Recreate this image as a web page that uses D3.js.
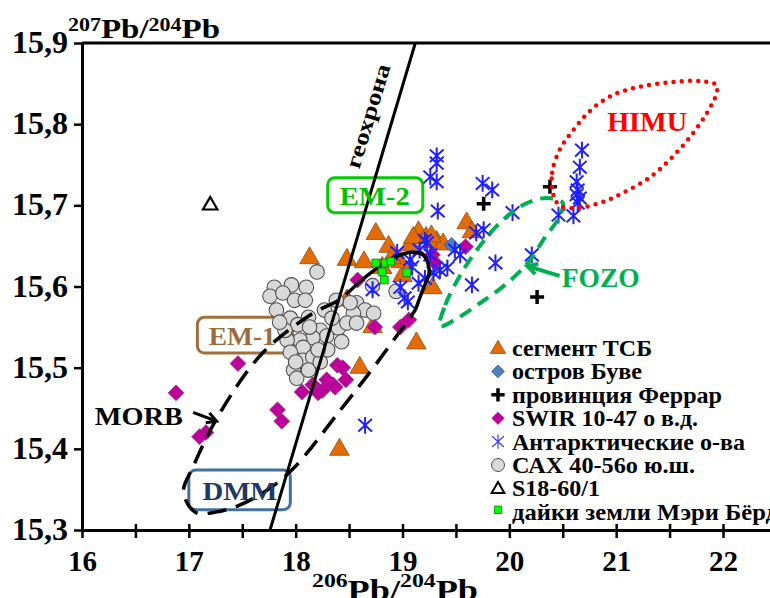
<!DOCTYPE html>
<html><head><meta charset="utf-8">
<script src="https://cdn.jsdelivr.net/npm/d3@7"></script>
<style>
body{margin:0;background:#fff}
svg{display:block}
text{font-family:"Liberation Serif","Times New Roman",serif;font-weight:bold}
</style>
</head><body>
<svg id="c" width="770" height="598"></svg>
<script>
// ---------- data ----------
const xTicks = [16,16.5,17,17.5,18,18.5,19,19.5,20,20.5,21,21.5,22];
const yTicks = [15.3,15.4,15.5,15.6,15.7,15.8,15.9];

// сегмент ТСБ (orange triangles)
const tsb = [[18.13,15.635],[18.75,15.665],[18.48,15.633],[18.64,15.630],[18.87,15.649],[18.81,15.623],
  [19.07,15.651],[19.15,15.667],[19.22,15.660],[19.32,15.655],[19.38,15.652],[19.60,15.678],[19.65,15.667],
  [19.00,15.613],[19.28,15.598],[18.48,15.583],[18.72,15.550],[18.60,15.500],[19.13,15.530],[18.41,15.399],
  [18.98,15.630],[18.90,15.635],[19.10,15.660],[19.27,15.662]];
// остров Буве
const bouvet = [[19.46,15.651]];
// провинция Феррар
const ferrar = [[19.76,15.702],[20.38,15.723],[20.26,15.587]];
// SWIR 10-47 о в.д.
const swir = [[16.88,15.469],[17.46,15.505],[17.10,15.415],[17.16,15.42],[17.83,15.448],[17.87,15.434],
  [18.06,15.47],[18.39,15.503],[18.44,15.50],[18.47,15.485],[18.35,15.479],[18.25,15.472],[18.29,15.485],
  [18.16,15.479],[18.74,15.55],[18.98,15.55],[19.06,15.559],[19.59,15.649],[19.28,15.639],[18.58,15.608],
  [18.21,15.469],[18.37,15.476],[19.30,15.630]];
// Антарктические о-ва
const antarctic = [[19.32,15.761],[19.32,15.752],[19.26,15.735],[19.32,15.729],[19.33,15.693],[19.75,15.727],
  [19.84,15.719],[20.03,15.691],[19.76,15.670],[19.69,15.666],[20.68,15.768],[20.66,15.747],[20.63,15.729],
  [20.64,15.719],[20.63,15.713],[20.66,15.709],[20.64,15.703],[20.46,15.688],[20.60,15.687],[20.21,15.639],
  [19.87,15.629],[19.65,15.602],[19.54,15.639],[19.42,15.623],[19.29,15.617],[19.23,15.654],[19.16,15.645],
  [19.09,15.624],[19.15,15.604],[19.05,15.581],[18.95,15.642],[19.21,15.657],[19.35,15.620],[19.21,15.610],
  [18.72,15.596],[19.49,15.645],[18.65,15.429],[18.98,15.599],[19.26,15.639],[19.07,15.633],[19.02,15.586]];
// САХ 40-56о ю.ш.
const cax = [[18.20,15.618],[17.80,15.599],[17.96,15.602],[18.10,15.599],[17.76,15.588],[17.88,15.592],
  [17.99,15.583],[18.09,15.583],[17.82,15.571],[17.95,15.561],[18.12,15.562],[18.02,15.553],[18.23,15.546],
  [18.29,15.539],[18.40,15.549],[18.43,15.532],[18.16,15.537],[18.04,15.534],[17.92,15.534],[18.07,15.525],
  [17.95,15.519],[18.07,15.509],[18.16,15.513],[17.98,15.497],[18.01,15.487],[18.12,15.497],[18.23,15.507],
  [18.30,15.522],[18.57,15.58],[18.65,15.571],[18.54,15.567],[18.48,15.555],[18.57,15.555],[18.51,15.58],
  [18.73,15.567],[18.72,15.601],[18.94,15.594],[18.38,15.583],[18.27,15.571],[18.21,15.522],[17.90,15.546],
  [17.85,15.556],[18.00,15.507],[18.13,15.55],[18.34,15.561]];
// S18-60/1
const s18 = [[17.20,15.70]];
// дайки земли Мэри Бёрд
const maryByrd = [[18.75,15.629],[18.84,15.629],[18.89,15.631],[18.81,15.618],[18.83,15.608],[19.04,15.617]];

// reference lines / fields
const geochron = [[17.76,15.3],[19.12,15.9]];
const morbSolid = [[18.60,15.606],[18.88,15.633],[19.07,15.642],[19.20,15.638],[19.25,15.618],[19.19,15.596],[19.12,15.571]];
const morbDashed = [[18.60,15.606],[18.40,15.583],[18.16,15.567],[17.69,15.518],[17.29,15.444],[17.04,15.378],
  [16.95,15.347],[17.06,15.322],[17.25,15.322],[17.48,15.331],[17.73,15.349],[17.98,15.376],[18.42,15.448],
  [18.71,15.497],[18.95,15.540],[19.12,15.571]];
const fozo = [[19.35,15.551],[19.40,15.577],[19.54,15.614],[19.73,15.651],[19.94,15.682],[20.15,15.702],
  [20.35,15.709],[20.50,15.703],[20.46,15.684],[20.33,15.660],[20.18,15.630],[19.96,15.602],[19.73,15.580],[19.49,15.559]];
const himu = [[20.41,15.715],[20.40,15.740],[20.47,15.768],[20.60,15.793],[20.76,15.817],[20.97,15.836],
  [21.22,15.846],[21.53,15.852],[21.79,15.853],[21.94,15.848],[21.94,15.838],[21.85,15.814],[21.72,15.789],
  [21.53,15.760],[21.32,15.735],[21.06,15.715],[20.85,15.703],[20.66,15.697],[20.50,15.698],[20.43,15.706]];

const legendItems = ["сегмент ТСБ","остров Буве","провинция Феррар","SWIR 10-47 о в.д.",
  "Антарктические о-ва","САХ 40-56о ю.ш.","S18-60/1","дайки земли Мэри Бёрд"];
const legendWidths = [140,130,210,186,233,183,88,266];

// ---------- chart ----------
const svg = d3.select("#c");
const x = d3.scaleLinear().domain([16,22.44]).range([82,770]);
const y = d3.scaleLinear().domain([15.3,15.9]).range([530,43]);

const C = {tri:"#e36c09", triS:"#8a4a10", swir:"#c0009a", bouvet:"#4f81bd", ast:"#1f1fff",
  circ:"#d9d9d9", circS:"#505050", green:"#00ff00", fozo:"#00b050", himu:"#ff0000"};

const triPath = s => d3.symbol(d3.symbolTriangle, s)();
const sqPath = s => d3.symbol(d3.symbolSquare, s)();
const astPath = k => `M0,${-8*k}V${8*k}M${-6.5*k},${-6*k}L${6.5*k},${6*k}M${-6.5*k},${6*k}L${6.5*k},${-6*k}`;
const crossPath = k => `M${-7*k},0H${7*k}M0,${-7*k}V${7*k}`;

function label(px,py,str,size,color,len,anchor){
  const t = svg.append("text").attr("x",px).attr("y",py).attr("font-size",size)
    .attr("fill",color).attr("text-anchor",anchor||"middle").text(str);
  if(len) t.attr("textLength",len).attr("lengthAdjust","spacingAndGlyphs");
  return t;
}
function box(x0,x1,y0,y1,color){
  svg.append("rect").attr("x",x(x0)).attr("y",y(y0)).attr("width",x(x1)-x(x0)).attr("height",y(y1)-y(y0))
    .attr("rx",7).attr("fill","none").attr("stroke",color).attr("stroke-width",3);
}

// label boxes (behind data)
box(18.30,19.19,15.734,15.691,"#00cc00");
box(17.08,17.97,15.562,15.518,"#a0703a");
box(17.00,17.95,15.374,15.325,"#41719c");

// axes
const gx = svg.append("g").attr("transform",`translate(0,${y(15.3)})`)
  .call(d3.axisBottom(x).tickValues(xTicks).tickSize(8).tickSizeOuter(0)
    .tickFormat(d => Number.isInteger(d) ? String(d) : ""));
gx.select(".domain").attr("stroke","#000").attr("stroke-width",3);
gx.selectAll(".tick line").attr("y1",-6).attr("stroke","#000").attr("stroke-width",2.5);
gx.selectAll(".tick text").attr("y",41).attr("dy",0).attr("font-size",29).attr("fill","#000");

const gy = svg.append("g").attr("transform",`translate(${x(16)},0)`)
  .call(d3.axisLeft(y).tickValues(yTicks).tickSize(8).tickSizeOuter(0).tickPadding(6)
    .tickFormat(d => d.toFixed(1).replace(".",",")));
gy.select(".domain").attr("stroke","#000").attr("stroke-width",3);
gy.selectAll(".tick line").attr("stroke","#000").attr("stroke-width",2.5);
gy.selectAll(".tick text").attr("font-size",32).attr("fill","#000").attr("dy","0.3em");

svg.append("line").attr("x1",x(16)).attr("x2",x(22.44)).attr("y1",y(15.9)).attr("y2",y(15.9))
  .attr("stroke","#000").attr("stroke-width",3);

// data marks
const plot = svg.append("g");
plot.selectAll(".tsb").data(tsb).join("path").attr("d",triPath(165))
  .attr("transform",d=>`translate(${x(d[0])},${y(d[1])})`)
  .attr("fill",C.tri).attr("stroke",C.triS).attr("stroke-width",0.8);
plot.selectAll(".cax").data(cax).join("circle").attr("cx",d=>x(d[0])).attr("cy",d=>y(d[1])).attr("r",7.3)
  .attr("fill",C.circ).attr("stroke",C.circS).attr("stroke-width",1.1);
plot.selectAll(".swir").data(swir).join("path").attr("d",sqPath(128))
  .attr("transform",d=>`translate(${x(d[0])},${y(d[1])}) rotate(45)`)
  .attr("fill",C.swir).attr("stroke","#7a4a7a").attr("stroke-width",0.6);
plot.selectAll(".bouvet").data(bouvet).join("path").attr("d",sqPath(115))
  .attr("transform",d=>`translate(${x(d[0])},${y(d[1])}) rotate(45)`)
  .attr("fill",C.bouvet).attr("stroke","#2f5597").attr("stroke-width",0.8);
plot.selectAll(".ast").data(antarctic).join("path").attr("d",astPath(1.05))
  .attr("transform",d=>`translate(${x(d[0])},${y(d[1])})`)
  .attr("fill","none").attr("stroke",C.ast).attr("stroke-width",2);
plot.selectAll(".ferrar").data(ferrar).join("path").attr("d",crossPath(1))
  .attr("transform",d=>`translate(${x(d[0])},${y(d[1])})`)
  .attr("fill","none").attr("stroke","#000").attr("stroke-width",3.5);

// lines and fields
const straight = d3.line().x(d=>x(d[0])).y(d=>y(d[1]));
const smooth = d3.line().x(d=>x(d[0])).y(d=>y(d[1])).curve(d3.curveCatmullRom.alpha(0.5));
const smoothClosed = d3.line().x(d=>x(d[0])).y(d=>y(d[1])).curve(d3.curveCatmullRomClosed.alpha(0.5));

svg.append("path").attr("d",straight(geochron)).attr("stroke","#000").attr("stroke-width",3).attr("fill","none");
svg.append("path").attr("d",smooth(morbSolid)).attr("stroke","#000").attr("stroke-width",3.5).attr("fill","none");
svg.append("path").attr("d",smooth(morbDashed)).attr("stroke","#000").attr("stroke-width",3.5)
  .attr("fill","none").attr("stroke-dasharray","19 10");
svg.append("path").attr("d",smoothClosed(fozo)).attr("stroke",C.fozo).attr("stroke-width",4)
  .attr("fill","none").attr("stroke-dasharray","13 8");
svg.append("path").attr("d",smoothClosed(himu)).attr("stroke",C.himu).attr("stroke-width",4.5)
  .attr("fill","none").attr("stroke-dasharray","0 8.2").attr("stroke-linecap","round");

// top marks
svg.selectAll(".mb").data(maryByrd).join("path").attr("d",sqPath(60))
  .attr("transform",d=>`translate(${x(d[0])},${y(d[1])})`)
  .attr("fill",C.green).attr("stroke","#1a6a1a").attr("stroke-width",0.8);
svg.selectAll(".s18").data(s18).join("path").attr("d",triPath(90))
  .attr("transform",d=>`translate(${x(d[0])},${y(d[1])})`)
  .attr("fill","#fff").attr("stroke","#000").attr("stroke-width",2.2);

// arrows
function arrow(from,to,color,w){
  const x0=x(from[0]),y0=y(from[1]),x1=x(to[0]),y1=y(to[1]);
  const a=Math.atan2(y1-y0,x1-x0), L=11, s=0.5;
  svg.append("line").attr("x1",x0).attr("y1",y0).attr("x2",x1).attr("y2",y1)
    .attr("stroke",color).attr("stroke-width",w);
  svg.append("path").attr("d",`M${x1-L*Math.cos(a-s)},${y1-L*Math.sin(a-s)}L${x1},${y1}L${x1-L*Math.cos(a+s)},${y1-L*Math.sin(a+s)}`)
    .attr("fill","none").attr("stroke",color).attr("stroke-width",w).attr("stroke-linejoin","miter");
}
arrow([17.04,15.445],[17.26,15.434],"#000",3);
arrow([20.47,15.613],[20.17,15.625],C.fozo,4);

// field labels
label(x(21.29),y(15.792),"HIMU",28,C.himu,80);
label(x(20.49),y(15.599),"FOZO",27,C.fozo,78,"start");
label(x(18.74),y(15.70),"EM-2",25,"#00c000",70);
label(x(17.50),y(15.528),"EM-1",25,"#9c6b3c",67);
label(x(17.479),y(15.337),"DMM",26,"#1f3864",75);
label(x(16.12),y(15.429),"MORB",26,"#000",88,"start");
label(0,0,"геохрона",22,"#000",108).attr("x",null).attr("y",null)
  .attr("transform",`translate(${x(18.743)},${y(15.816)+7}) rotate(-73)`);

// axis titles
const yt = svg.append("text").attr("x",68).attr("y",38).attr("fill","#000")
  .attr("textLength",152).attr("lengthAdjust","spacingAndGlyphs");
yt.append("tspan").attr("font-size",18).attr("dy",-7).text("207");
yt.append("tspan").attr("font-size",27).attr("dy",7).text("Pb/");
yt.append("tspan").attr("font-size",18).attr("dy",-7).text("204");
yt.append("tspan").attr("font-size",27).attr("dy",7).text("Pb");

const xt = svg.append("text").attr("x",312).attr("y",600).attr("fill","#000")
  .attr("textLength",166).attr("lengthAdjust","spacingAndGlyphs");
xt.append("tspan").attr("font-size",19).attr("dy",-13).text("206");
xt.append("tspan").attr("font-size",29).attr("dy",13).text("Pb/");
xt.append("tspan").attr("font-size",19).attr("dy",-13).text("204");
xt.append("tspan").attr("font-size",29).attr("dy",13).text("Pb");

// legend
const lg = svg.append("g");
const rowY = i => 348 + i*23.4;
const mx = 498;
lg.append("path").attr("d",triPath(100)).attr("transform",`translate(${mx},${rowY(0)+1})`)
  .attr("fill",C.tri).attr("stroke",C.triS).attr("stroke-width",0.8);
lg.append("path").attr("d",sqPath(80)).attr("transform",`translate(${mx},${rowY(1)}) rotate(45)`)
  .attr("fill",C.bouvet).attr("stroke","#2f5597").attr("stroke-width",0.8);
lg.append("path").attr("d",crossPath(0.95)).attr("transform",`translate(${mx},${rowY(2)})`)
  .attr("fill","none").attr("stroke","#000").attr("stroke-width",3.5);
lg.append("path").attr("d",sqPath(80)).attr("transform",`translate(${mx},${rowY(3)}) rotate(45)`)
  .attr("fill",C.swir).attr("stroke","#7a4a7a").attr("stroke-width",0.6);
lg.append("path").attr("d",astPath(0.9)).attr("transform",`translate(${mx},${rowY(4)})`)
  .attr("fill","none").attr("stroke","#4040ff").attr("stroke-width",1.2);
lg.append("circle").attr("cx",mx).attr("cy",rowY(5)).attr("r",6.5)
  .attr("fill",C.circ).attr("stroke",C.circS).attr("stroke-width",1);
lg.append("path").attr("d",triPath(70)).attr("transform",`translate(${mx},${rowY(6)+1})`)
  .attr("fill","#fff").attr("stroke","#000").attr("stroke-width",2);
lg.append("path").attr("d",sqPath(55)).attr("transform",`translate(${mx},${rowY(7)-2})`)
  .attr("fill",C.green).attr("stroke","#1a6a1a").attr("stroke-width",0.8);
legendItems.forEach((t,i)=>{
  label(512,rowY(i)+8,t,23,"#000",legendWidths[i],"start");
});
</script>
</body></html>
